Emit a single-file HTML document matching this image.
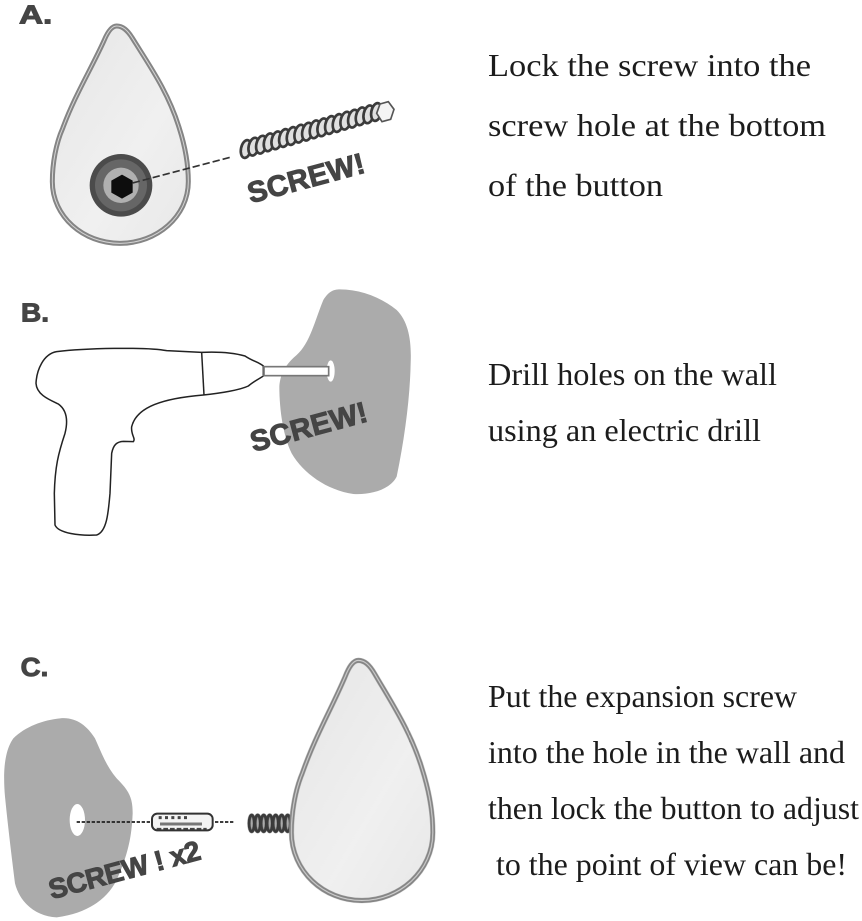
<!DOCTYPE html>
<html>
<head>
<meta charset="utf-8">
<style>
html,body{margin:0;padding:0;background:#fff;width:862px;height:921px;overflow:hidden}
svg{display:block}
.t{font-family:"Liberation Serif",serif;font-size:32px;fill:#1c1c1c}
.b{font-family:"Liberation Sans",sans-serif;font-weight:bold;fill:#444;stroke:#444;stroke-width:3px}
</style>
</head>
<body>
<svg width="862" height="921" viewBox="0 0 862 921" xmlns="http://www.w3.org/2000/svg">
<defs>
<filter id="soft" x="-5%" y="-5%" width="110%" height="110%"><feGaussianBlur stdDeviation="0.35"/></filter>
<linearGradient id="g" x1="0" y1="0" x2="1" y2="1">
<stop offset="0" stop-color="#e6e6e6"/><stop offset="0.6" stop-color="#f0f0f0"/><stop offset="1" stop-color="#e8e8e8"/>
</linearGradient>
<path id="drop" d="M350 78 C368 78 382 90 397 114 C445 192 505 275 538 385 C554 435 565 490 565 545 C565 650 470 730 360 730 C250 730 157 650 157 545 C157 490 168 430 188 385 C225 285 272 210 312 122 C322 98 334 78 350 78 Z"/>
<ellipse id="coil" rx="15" ry="27" transform="rotate(12)" fill="#e0e0e0" stroke="#3a3a3a" stroke-width="8"/>
<ellipse id="coil2" rx="8" ry="25" fill="#aaa" stroke="#3a3a3a" stroke-width="9"/>
</defs>
<rect width="862" height="921" fill="#fff"/>

<g filter="url(#soft)">
<!-- A -->
<g transform="scale(0.33333)">
<text class="b" x="57" y="70" font-size="78" textLength="100" lengthAdjust="spacingAndGlyphs">A.</text>
<use href="#drop" fill="url(#g)" stroke="#858585" stroke-width="15"/>
<use href="#drop" fill="none" stroke="#d4d4d4" stroke-width="3"/>
<circle cx="363" cy="556" r="94" fill="#4b4b4b"/>
<circle cx="363" cy="556" r="78" fill="#666"/>
<circle cx="363" cy="556" r="53" fill="#b0b0b0"/>
<polygon points="366,524 398,542 398,578 366,596 334,578 334,542" fill="#0c0c0c"/>
<line x1="398" y1="549" x2="690" y2="472" stroke="#333" stroke-width="5" stroke-dasharray="22 9"/>
<g>
<use href="#coil" x="738" y="447"/><use href="#coil" x="761" y="440"/><use href="#coil" x="784" y="434"/><use href="#coil" x="807" y="427"/><use href="#coil" x="830" y="421"/><use href="#coil" x="853" y="414"/><use href="#coil" x="876" y="408"/><use href="#coil" x="899" y="401"/><use href="#coil" x="922" y="395"/><use href="#coil" x="945" y="388"/><use href="#coil" x="968" y="382"/><use href="#coil" x="991" y="375"/><use href="#coil" x="1014" y="369"/><use href="#coil" x="1037" y="362"/><use href="#coil" x="1060" y="356"/><use href="#coil" x="1083" y="349"/><use href="#coil" x="1106" y="343"/><use href="#coil" x="1129" y="336"/>
</g>
<polygon points="1140,312 1165,305 1182,328 1172,358 1146,365 1130,340" fill="#f4f4f4" stroke="#555" stroke-width="5"/>
<text class="b" transform="translate(752,610) rotate(-15)" font-size="88" textLength="360" lengthAdjust="spacing">SCREW!</text>
</g>

<!-- B -->
<g transform="translate(0,280) scale(0.33333)">
<text class="b" x="63" y="125" font-size="78" textLength="84" lengthAdjust="spacingAndGlyphs">B.</text>
<path d="M1020 28 C1080 28 1140 50 1190 90 C1225 125 1235 180 1232 250 C1230 350 1215 470 1190 590 C1170 630 1110 645 1060 642 C980 630 910 580 875 520 C850 470 838 390 838 320 C840 280 860 250 890 225 C930 190 945 120 970 60 C985 35 1000 28 1020 28 Z" fill="#ababab"/>
<ellipse cx="992" cy="273" rx="12" ry="32" fill="#fff"/>
<path d="M500 212 C440 200 250 205 170 215 C130 222 110 270 108 310 C110 345 150 360 175 372 C200 390 205 420 195 460 C175 520 165 560 163 640 L165 735 C175 760 240 768 290 765 C320 755 325 700 330 640 L335 520 C340 495 350 485 370 484 L400 485 C408 475 392 465 395 440 C410 380 490 355 610 345 C660 340 720 330 745 318 C760 305 775 298 790 288 L790 258 C775 245 760 245 735 228 C700 218 650 215 605 217 Z" fill="#fff" stroke="#222" stroke-width="4.5"/>
<line x1="605" y1="217" x2="612" y2="345" stroke="#222" stroke-width="4.5"/>
<rect x="792" y="260" width="194" height="27" fill="#fff" stroke="#777" stroke-width="5"/>
<text class="b" transform="translate(760,516) rotate(-15)" font-size="88" textLength="360" lengthAdjust="spacing">SCREW!</text>
</g>

<!-- C -->
<g transform="translate(0,650) scale(0.33333)">
<text class="b" x="62" y="78" font-size="78" textLength="83" lengthAdjust="spacingAndGlyphs">C.</text>
<path d="M180 205 C225 200 260 225 285 265 C305 310 320 350 350 385 C385 420 398 440 398 490 C395 560 385 610 350 690 C320 750 260 790 170 802 C110 800 60 760 45 700 C35 620 25 540 15 440 C8 360 15 300 40 265 C75 230 130 210 180 205 Z" fill="#ababab"/>
<ellipse cx="232" cy="510" rx="23" ry="48" fill="#fff"/>
<line x1="230" y1="516" x2="450" y2="516" stroke="#222" stroke-width="5" stroke-dasharray="10 5"/>
<line x1="645" y1="516" x2="705" y2="516" stroke="#222" stroke-width="5" stroke-dasharray="10 5"/>
<rect x="456" y="491" width="182" height="50" rx="16" fill="#f4f4f4" stroke="#333" stroke-width="6"/>
<line x1="480" y1="522" x2="606" y2="522" stroke="#777" stroke-width="9"/>
<line x1="476" y1="503" x2="570" y2="503" stroke="#444" stroke-width="9" stroke-dasharray="9 10"/>
<line x1="470" y1="536" x2="620" y2="536" stroke="#444" stroke-width="5" stroke-dasharray="14 6"/>
<use href="#coil2" x="755" y="520"/><use href="#coil2" x="773" y="520"/><use href="#coil2" x="791" y="520"/><use href="#coil2" x="809" y="520"/><use href="#coil2" x="827" y="520"/><use href="#coil2" x="845" y="520"/><use href="#coil2" x="863" y="520"/>
<g transform="matrix(1.04 0 0 1.105 711 -55)">
<use href="#drop" fill="url(#g)" stroke="#858585" stroke-width="14"/>
<use href="#drop" fill="none" stroke="#d4d4d4" stroke-width="3"/>
</g>
<text class="b" transform="translate(155,748) rotate(-15)" font-size="84" textLength="468" lengthAdjust="spacing">SCREW ! x2</text>
</g>
</g>

<!-- text -->
<text class="t" x="488" y="76" textLength="323" lengthAdjust="spacingAndGlyphs">Lock the screw into the</text>
<text class="t" x="488" y="136" textLength="338" lengthAdjust="spacingAndGlyphs">screw hole at the bottom</text>
<text class="t" x="488" y="196" textLength="175" lengthAdjust="spacingAndGlyphs">of the button</text>
<text class="t" x="488" y="385" textLength="289" lengthAdjust="spacingAndGlyphs">Drill holes on the wall</text>
<text class="t" x="488" y="441" textLength="273" lengthAdjust="spacingAndGlyphs">using an electric drill</text>
<text class="t" x="488" y="707" textLength="309" lengthAdjust="spacingAndGlyphs">Put the expansion screw</text>
<text class="t" x="488" y="763" textLength="357" lengthAdjust="spacingAndGlyphs">into the hole in the wall and</text>
<text class="t" x="488" y="819" textLength="371" lengthAdjust="spacingAndGlyphs">then lock the button to adjust</text>
<text class="t" x="496" y="875" textLength="351" lengthAdjust="spacingAndGlyphs">to the point of view can be!</text>
</svg>
</body>
</html>
